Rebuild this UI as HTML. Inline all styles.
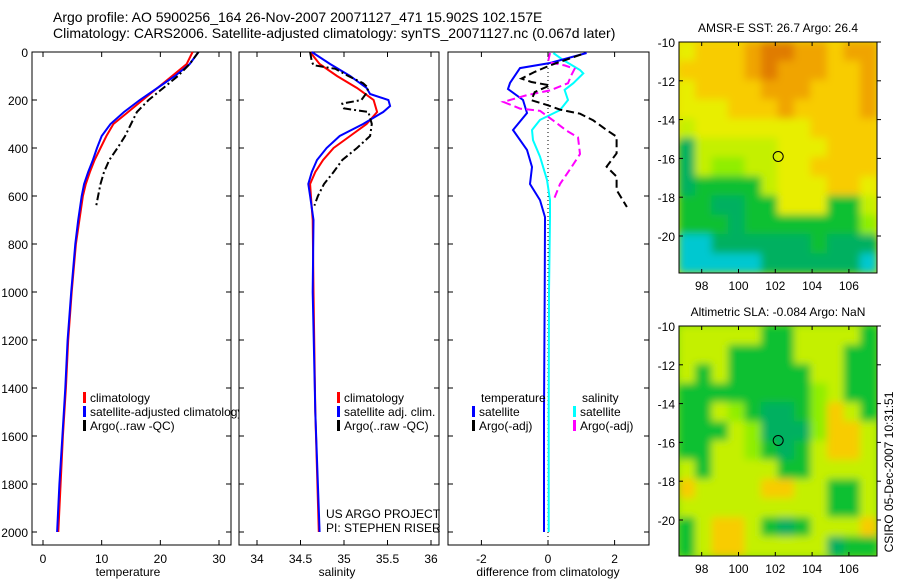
<!DOCTYPE html>
<html><head><meta charset="utf-8"><style>
body{margin:0;background:#fff;}
svg{display:block;font-family:"Liberation Sans",sans-serif;}
</style></head><body>
<svg id="fig" width="900" height="580" viewBox="0 0 900 580">
<defs>
<filter id="bl" x="-10%" y="-10%" width="120%" height="120%"><feGaussianBlur stdDeviation="4"/></filter>
<clipPath id="cm1"><rect x="679" y="42" width="198" height="231"/></clipPath>
<clipPath id="cm2"><rect x="679" y="326" width="198" height="230"/></clipPath>
<clipPath id="cp1"><rect x="32" y="52" width="207" height="493"/></clipPath>
</defs>
<g id="root"></g>
</svg>
<script>
// ---------- data ----------
const depthTicks=[0,200,400,600,800,1000,1200,1400,1600,1800,2000];
const tempTicks=[0,10,20,30];
const salTicks=[34,34.5,35,35.5,36];
const salTickLabels=["34","34.5","35","35.5","36"];
const diffTicks=[-2,0,2];
const lonTicks=[98,100,102,104,106];
const latTicks=[-10,-12,-14,-16,-18,-20];

const tClimDepth=[0,50,100,150,200,250,300,350,400,450,500,550,600,700,800,1000,1200,1400,1600,1800,2000];
const tClim=[25.5,24.5,22,19.5,17,14.5,12,10.8,9.8,8.8,8.0,7.3,6.8,6.2,5.6,4.9,4.3,3.9,3.4,3.0,2.6];
const tSat=[26.5,25,22.5,19.5,16.5,13.8,11.5,10,9.2,8.5,7.7,7.0,6.6,6.0,5.5,4.8,4.2,3.8,3.3,2.8,2.4];
const tArgoDepth=[0,50,100,150,200,250,300,350,400,450,500,550,600,650];
const tArgo=[26.5,25,23,20.5,18,16,15,14,12.7,11.3,10.4,9.8,9.4,9.0];

const sClimDepth=[0,50,100,150,200,250,300,350,400,450,500,550,600,700,1000,1500,2000];
const sClim=[34.61,34.72,34.92,35.15,35.34,35.38,35.26,35.07,34.88,34.76,34.67,34.61,34.62,34.64,34.65,34.67,34.71];
const sSatDepth=[0,50,100,150,175,200,225,250,300,350,400,450,500,550,600,700,1000,1500,2000];
const sSat=[34.63,34.84,35.07,35.26,35.3,35.51,35.53,35.45,35.22,34.95,34.8,34.69,34.63,34.59,34.61,34.65,34.64,34.67,34.72];
const sArgoDepth=[0,40,55,70,100,130,150,175,200,215,235,250,300,350,400,450,500,550,600,640];
const sArgo=[34.61,34.63,34.65,34.9,35.05,35.22,35.28,35.25,35.2,34.98,35.0,35.28,35.32,35.3,35.15,34.98,34.88,34.77,34.7,34.66];

const dTSatDepth=[4,46,67,129,154,200,254,325,408,479,550,617,688,1000,1500,2000];
const dTSat=[1.16,0.06,-0.84,-1.14,-1.2,-0.75,-0.63,-1.05,-0.63,-0.48,-0.54,-0.24,-0.09,-0.1,-0.12,-0.12];
const dSSatDepth=[4,33,75,89,130,158,200,242,283,325,367,436,533,617,686,1000,1500,2000];
const dSSat=[0.16,0.45,0.96,1.06,0.76,0.5,0.6,0.36,-0.24,-0.48,-0.45,-0.24,-0.03,0.06,0.06,0.03,0.02,0.02];
const dTArgoDepth=[10,56,83,111,125,139,167,201,222,240,257,285,325,353,422,478,519,575,632,646];
const dTArgo=[1.0,0.06,-0.4,-0.8,-0.5,0.06,-0.4,-0.5,0.0,0.36,0.96,1.36,1.76,2.06,2.06,1.76,2.06,2.06,2.31,2.37];
const dSArgoDepth=[4,42,56,70,97,130,160,180,208,236,245,286,328,356,425,481,550,620];
const dSArgo=[0.06,0.0,0.5,0.8,0.7,0.6,0.06,-0.64,-1.34,-0.84,-0.24,0.16,0.56,0.9,0.96,0.7,0.36,0.16];

const sstGrid=["yYYYoOOooYoo","YYYYoOoooYYo","yYYYYoooYYYo","yyyYYYoYYYYo","lyyyyyyyYYYY","glllllyyyYYY","glLLllyyYYYY","gGGGGlyyyYYy","GGggGGyyyGGl","GGGgGGGGGGGL","ccggggggGggg","cccccggggggc"];
const slaGrid=["lllllGGllllG","lllGGGGlllGG","lGlGGGGGllGG","GGGGGGGGLlGG","GGlLGggGLYlG","GGGlLgggLYYl","GGllLGgGlYYl","lGllllGGllll","YllllYYllGGl","lllllllllGGl","GlYYlGgGlllY","GlYYlllllgGG"];
const palette={O:"#e07c00",o:"#f0a400",Y:"#f8cc00",y:"#e8ee00",l:"#c4f000",L:"#90ee00",G:"#10c030",g:"#00b060",c:"#00c8d0"};

// ---------- drawing ----------
const NS="http://www.w3.org/2000/svg";
const root=document.getElementById('root');
function mk(tag,at,parent){const e=document.createElementNS(NS,tag);for(const k in at)e.setAttribute(k,at[k]);(parent||root).appendChild(e);return e;}
function txt(x,y,s,size,anchor,parent){const t=mk('text',{x:x,y:y,'font-size':size||12,'text-anchor':anchor||'start',fill:'#000'},parent);t.textContent=s;return t;}
const yD=d=>52+d*0.24;
const xT=v=>43+v*5.867;
const xS=v=>257+(v-34)*87;
const xD=v=>548+v*33.3;

function panel(x0,x1,name){
  const g=mk('g',{});
  
  
  mk('rect',{x:x0,y:52,width:x1-x0,height:493,fill:'none',stroke:'#000','stroke-width':1},g);
  depthTicks.forEach(d=>{mk('line',{x1:x0,x2:x0+5,y1:yD(d),y2:yD(d),stroke:'#000'},g);mk('line',{x1:x1,x2:x1-5,y1:yD(d),y2:yD(d),stroke:'#000'},g);});
  return g;
}
function series(xs,ds,fx,color,name,dash,g){
  const p=xs.map((v,i)=>fx(v).toFixed(1)+','+yD(ds[i]).toFixed(1)).join(' ');
  const e=mk('polyline',{points:p,fill:'none',stroke:color,'stroke-width':2,'stroke-dasharray':dash||'none'},g);
  
  
  return e;
}
function xticks(ticks,labels,fx,x0,x1,g){
  ticks.forEach((t,i)=>{const x=fx(t);mk('line',{x1:x,x2:x,y1:545,y2:540,stroke:'#000'},g);mk('line',{x1:x,x2:x,y1:52,y2:57,stroke:'#000'},g);txt(x,563,labels[i],12,'middle',g);});
}
function legendItem(x,y,color,label,g,name){
  mk('rect',{x:x,y:y-10,width:3,height:11,fill:color},g);
  const t=txt(x+7,y,label,12,'start',g);
  
  
}

// titles
const t1=txt(53,22,"Argo profile: AO 5900256_164 26-Nov-2007 20071127_471 15.902S 102.157E",14);


const t2=txt(53,38,"Climatology: CARS2006. Satellite-adjusted climatology: synTS_20071127.nc (0.067d later)",14);



// panel 1 temperature
const g1=panel(32,231,'temperature-panel');
depthTicks.forEach(d=>txt(28,yD(d)+5,String(d),12,'end',g1));
xticks(tempTicks,tempTicks.map(String),xT,32,231,g1);
txt(128,576,"temperature",12,'middle',g1);
series(tClim,tClimDepth,xT,'#ff0000','temp-climatology-line',null,g1);
series(tSat,tClimDepth,xT,'#0000ff','temp-satellite-line',null,g1);
series(tArgo,tArgoDepth,xT,'#000','temp-argo-line','8,3,2,3',g1);
const lg1=mk('g',{'clip-path':'url(#cp1)'},g1);
legendItem(83,402,'#ff0000','climatology',lg1,'legend-climatology');
legendItem(83,416,'#0000ff','satellite-adjusted climatology',lg1,'legend-satellite-adjusted');
legendItem(83,430,'#000','Argo(..raw -QC)',lg1,'legend-argo-raw');

// panel 2 salinity
const g2=panel(239,439,'salinity-panel');
xticks(salTicks,salTickLabels,xS,239,439,g2);
txt(337,576,"salinity",12,'middle',g2);
series(sClim,sClimDepth,xS,'#ff0000','sal-climatology-line',null,g2);
series(sSat,sSatDepth,xS,'#0000ff','sal-satellite-line',null,g2);
series(sArgo,sArgoDepth,xS,'#000','sal-argo-line','8,3,2,3',g2);
legendItem(337,402,'#ff0000','climatology',g2,'legend-sal-climatology');
legendItem(337,416,'#0000ff','satellite adj. clim.',g2,'legend-sal-satellite');
legendItem(337,430,'#000','Argo(..raw -QC)',g2,'legend-sal-argo');
txt(326,518,"US ARGO PROJECT",12,'start',g2);
txt(326,532,"PI: STEPHEN RISER",12,'start',g2);

// panel 3 difference
const g3=panel(448,649,'difference-panel');
xticks(diffTicks,diffTicks.map(String),xD,448,649,g3);
txt(548,576,"difference from climatology",12,'middle',g3);
mk('line',{x1:xD(0),x2:xD(0),y1:52,y2:545,stroke:'#000','stroke-dasharray':'1,3'},g3);
series(dSSat,dSSatDepth,xD,'#00ffff','sal-diff-satellite-line',null,g3);
series(dTSat,dTSatDepth,xD,'#0000ff','temp-diff-satellite-line',null,g3);
series(dSArgo,dSArgoDepth,xD,'#ff00ff','sal-diff-argo-line','8,4',g3);
series(dTArgo,dTArgoDepth,xD,'#000','temp-diff-argo-line','8,4',g3);
txt(481,402,"temperature",12,'start',g3);
legendItem(472,416,'#0000ff','satellite',g3,'legend-diff-temp-satellite');
legendItem(472,430,'#000','Argo(-adj)',g3,'legend-diff-temp-argo');
txt(582,402,"salinity",12,'start',g3);
legendItem(573,416,'#00ffff','satellite',g3,'legend-diff-sal-satellite');
legendItem(573,430,'#ff00ff','Argo(-adj)',g3,'legend-diff-sal-argo');

// maps
function map(top,bottom,grid,clip,title,name,avg){
  const g=mk('g',{});
  
  
  const left=679,right=877,W=right-left,H=bottom-top;
  const cg=mk('g',{'clip-path':'url(#'+clip+')'},g);
  mk('rect',{x:left,y:top,width:W,height:H,fill:avg},cg);
  const bg=mk('g',{filter:'url(#bl)'},cg);
  const rows=grid.length;
  grid.forEach((row,r)=>{const cols=12;for(let c=0;c<cols;c++){
    mk('rect',{x:left+c*W/cols-0.5,y:top+r*H/rows-0.5,width:W/cols+1,height:H/rows+1,fill:palette[row[c]]},bg);}});
  mk('rect',{x:left,y:top,width:W,height:H,fill:'none',stroke:'#000'},g);
  const xL=lon=>701.7+(lon-98)*18.4;
  const yL=lat=>top+(-10-lat)*19.4;
  lonTicks.forEach(l=>{const x=xL(l);mk('line',{x1:x,x2:x,y1:bottom,y2:bottom-4,stroke:'#000'},g);mk('line',{x1:x,x2:x,y1:top,y2:top+4,stroke:'#000'},g);txt(x,bottom+17,String(l),12,'middle',g);});
  latTicks.forEach(l=>{const y=yL(l);mk('line',{x1:left,x2:left+4,y1:y,y2:y,stroke:'#000'},g);mk('line',{x1:right,x2:right+4,y1:y,y2:y,stroke:'#000'},g);txt(left-4,y+5,String(l),12,'end',g);});
  const mkr=mk('circle',{cx:xL(102.157),cy:yL(-15.902),r:5,fill:'none',stroke:'#000'},g);
  
  
  txt(778,top-10,title,12,'middle',g);
}
map(42,273,sstGrid,'cm1',"AMSR-E SST: 26.7 Argo: 26.4",'sst-map','#e8e000');
map(326,556,slaGrid,'cm2',"Altimetric SLA: -0.084 Argo: NaN",'sla-map','#80dc10');

const cs=txt(0,0,"CSIRO 05-Dec-2007 10:31:51",12,'middle');
cs.setAttribute('transform','translate(893,472) rotate(-90)');


</script>
</body></html>
